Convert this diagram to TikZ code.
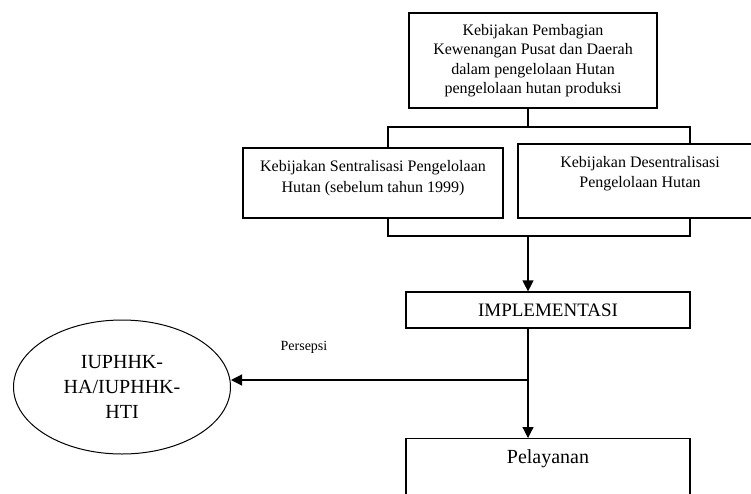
\documentclass[tikz,border=0pt]{standalone}
\usepackage{fontspec}
\setmainfont{Liberation Serif}
\usetikzlibrary{arrows.meta,shapes.geometric,positioning,calc}

\begin{document}
\begin{tikzpicture}[x=1pt, y=-1pt,
    box/.style={draw, line width=1.2pt, align=center, inner sep=0pt},
    flow/.style={line width=1.2pt},
    arr/.style={line width=1.2pt, -{Triangle[length=11pt,width=11pt]}}]
    \useasboundingbox (0,0) rectangle (751,493);
    \clip (0,0) rectangle (751,493);

    % Kebijakan pusat dan daerah
    \node[box, minimum width=248pt, minimum height=95pt, font=\fontsize{16}{19.5}\selectfont] (pusat) at (533,60.5)
        {Kebijakan Pembagian\\Kewenangan Pusat dan Daerah\\dalam pengelolaan Hutan\\pengelolaan hutan produksi};

    % Dua kebijakan
    \node[box, minimum width=260pt, minimum height=70pt, text depth=14pt, font=\fontsize{16}{21}\selectfont] (sentral) at (373,183)
        {Kebijakan Sentralisasi Pengelolaan\\Hutan (sebelum tahun 1999)};
    \node[box, minimum width=244pt, minimum height=74pt, text depth=19pt, font=\fontsize{16}{20}\selectfont] (desentral) at (640,181)
        {Kebijakan Desentralisasi\\Pengelolaan Hutan};

    % Implementasi dan pelayanan
    \node[box, minimum width=284pt, minimum height=36pt, font=\fontsize{19}{22}\selectfont] (impl) at (548,310) {IMPLEMENTASI};
    \node[box, anchor=north, minimum width=284pt, inner ysep=0pt, text height=25pt, text depth=60pt, font=\fontsize{20}{24}\selectfont] (pel) at (548,438) {Pelayanan};

    % Pemegang izin
    \node[ellipse, draw, line width=1pt, minimum width=217pt, minimum height=134pt, inner sep=0pt, align=center, font=\fontsize{20}{25}\selectfont] (iup) at (122,387)
        {IUPHHK-\\HA/IUPHHK-\\HTI};

    % Kurung penghubung
    \coordinate (kiriA) at (388,127);
    \coordinate (kananA) at (690,127);
    \coordinate (kiriB) at (388,236);
    \coordinate (kananB) at (690,236);
    \coordinate (gabung) at (528,236);
    \draw[flow] (gabung |- pusat.south) -- (gabung |- kiriA);
    \draw[flow] (kiriA |- sentral.north) -- (kiriA) -- (kananA) -- (kananA |- desentral.north);
    \draw[flow] (kiriB |- sentral.south) -- (kiriB) -- (kananB) -- (kananB |- desentral.south);
    \draw[arr] (gabung) -- (gabung |- impl.north);

    % Cabang ke pelayanan dan persepsi
    \coordinate (cabang) at (528,380);
    \draw[flow] (cabang |- impl.south) -- (cabang);
    \draw[arr] (cabang) -- (cabang |- pel.north);
    \draw[arr] (cabang) -- (cabang -| iup.east);
    \node[font=\fontsize{14}{16}\selectfont] (persepsi) at (304,347) {Persepsi};
\end{tikzpicture}
\end{document}
